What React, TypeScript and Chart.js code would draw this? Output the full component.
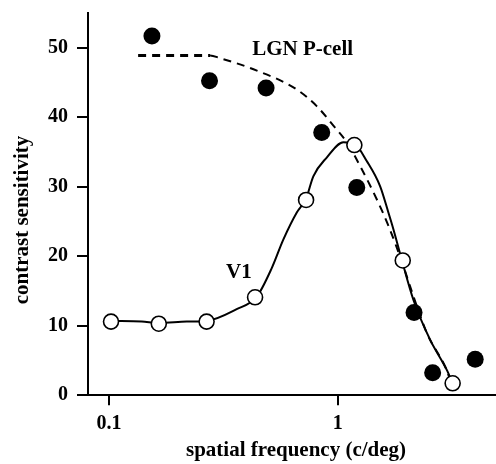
import React, { useEffect, useRef } from "react";
import { Chart, registerables } from "chart.js";

Chart.register(...registerables);

// Measured data points
const lgnFreq = [0.154, 0.275, 0.486, 0.851, 1.211, 2.156, 2.6, 3.99];
const lgnSens = [51.7, 45.25, 44.2, 37.8, 29.9, 11.9, 3.26, 5.2];
const v1Freq = [0.102, 0.165, 0.267, 0.435, 0.727, 1.182, 1.924, 3.18];
const v1Sens = [10.6, 10.3, 10.6, 14.1, 28.1, 36.0, 19.4, 1.73];

// Fitted curves
const lgnCurveFreq = [0.134, 0.2765, 0.306, 0.428, 0.662, 0.809, 0.957, 1.095, 1.252, 1.481, 1.67, 1.94, 2.07, 2.449, 2.997, 3.1];
const lgnCurveSens = [48.9, 48.9, 48.5, 46.9, 44.0, 41.6, 38.8, 36.4, 33.0, 28.2, 24.3, 18.5, 15.7, 9.0, 3.6, 2.2];
const v1CurveFreq = [0.102, 0.139, 0.165, 0.2187, 0.267, 0.3615, 0.4425, 0.5145, 0.578, 0.662, 0.727, 0.782, 0.895, 1.058, 1.19, 1.339, 1.531, 1.665, 1.751, 1.905, 2.141, 2.533, 2.997, 3.183];
const v1CurveSens = [10.7, 10.6, 10.4, 10.6, 10.7, 12.4, 14.2, 18.3, 22.4, 26.3, 28.3, 31.5, 34.2, 36.4, 36.1, 33.7, 30.1, 26.3, 23.9, 19.5, 13.75, 8.0, 3.65, 1.7];

const xTickValues = [0.1, 1];
const xTickLabels = ["0.1", "1"];
const yTickValues = [0, 10, 20, 30, 40, 50];

const xTitle = "spatial frequency (c/deg)";
const yTitle = "contrast sensitivity";

const annotations = [
  { text: "LGN P-cell", x: 0.702, y: 49.8 },
  { text: "V1", x: 0.3695, y: 17.6 },
];

const FONT = "'Liberation Serif', 'Times New Roman', serif";

const zip = (xs: number[], ys: number[]) => xs.map((x, i) => ({ x, y: ys[i] }));

const labelPlugin = {
  id: "labels",
  afterDatasetsDraw(chart: any) {
    const { ctx, scales } = chart;
    ctx.save();
    ctx.font = `bold 21px ${FONT}`;
    ctx.fillStyle = "#000";
    ctx.textAlign = "center";
    ctx.textBaseline = "middle";
    annotations.forEach((a) => {
      ctx.fillText(a.text, scales.x.getPixelForValue(a.x), scales.y.getPixelForValue(a.y));
    });
    // axis titles
    ctx.fillText(xTitle, 296, 451);
    ctx.translate(23, 220);
    ctx.rotate(-Math.PI / 2);
    ctx.fillText(yTitle, 0, 0);
    ctx.restore();
  },
};

export default function App() {
  const ref = useRef<HTMLCanvasElement>(null);
  useEffect(() => {
    document.body.style.margin = "0";
    const chart = new Chart(ref.current!, {
      type: "scatter",
      data: {
        datasets: [
          {
            data: zip(v1Freq, v1Sens),
            showLine: false,
            pointRadius: 7.5,
            pointBackgroundColor: "#fff",
            pointBorderColor: "#000",
            pointBorderWidth: 1.6,
          },
          {
            data: zip(lgnFreq, lgnSens),
            showLine: false,
            pointRadius: 8.5,
            pointBackgroundColor: "#000",
            pointBorderColor: "#000",
            pointBorderWidth: 0,
          },
          {
            data: zip(v1CurveFreq, v1CurveSens),
            showLine: true,
            pointRadius: 0,
            borderColor: "#000",
            borderWidth: 2,
            cubicInterpolationMode: "monotone",
          },
          {
            data: zip(lgnCurveFreq, lgnCurveSens),
            showLine: true,
            pointRadius: 0,
            borderColor: "#000",
            borderWidth: 2,
            borderDash: [8, 6],
            cubicInterpolationMode: "monotone",
            segment: {
              borderWidth: (c: any) => (c.p0DataIndex === 0 ? 3 : 2),
            },
          },
        ],
      },
      options: {
        animation: false,
        responsive: false,
        maintainAspectRatio: false,
        layout: { autoPadding: false, padding: { top: 13, right: 0, left: 0, bottom: 0 } },
        plugins: { legend: { display: false }, tooltip: { enabled: false } },
        scales: {
          x: {
            type: "logarithmic",
            min: 0.0809,
            max: 4.92,
            afterBuildTicks: (s: any) => {
              s.ticks = xTickValues.map((v) => ({ value: v }));
            },
            afterFit: (s: any) => {
              s.height = 68.7;
              s.paddingLeft = 0;
              s.paddingRight = 0;
            },
            ticks: {
              autoSkip: false,
              maxRotation: 0,
              color: "#000",
              padding: 7,
              font: { family: FONT, size: 20, weight: "bold" },
              callback: (v: any) => {
                const i = xTickValues.indexOf(Number(v));
                return i >= 0 ? xTickLabels[i] : "";
              },
            },
            grid: { drawOnChartArea: false, drawTicks: true, tickLength: 10, color: "#000", lineWidth: 2 },
            border: { display: true, color: "#000", width: 2 },
            title: { display: false },
          },
          y: {
            type: "linear",
            min: 0,
            max: 55,
            afterBuildTicks: (s: any) => {
              s.ticks = yTickValues.map((v) => ({ value: v }));
            },
            afterFit: (s: any) => {
              s.width = 88;
              s.paddingTop = 0;
              s.paddingBottom = 0;
            },
            ticks: {
              color: "#000",
              padding: 9,
              font: { family: FONT, size: 20, weight: "bold" },
            },
            grid: { drawOnChartArea: false, drawTicks: true, tickLength: 11, color: "#000", lineWidth: 2 },
            border: { display: true, color: "#000", width: 2 },
            title: { display: false },
          },
        },
      },
      plugins: [labelPlugin],
    });
    return () => chart.destroy();
  }, []);
  return (
    <div style={{ position: "fixed", left: 0, top: 0, width: 496, height: 464 }}>
      <canvas ref={ref} width={496} height={464} style={{ width: 496, height: 464 }} />
    </div>
  );
}
